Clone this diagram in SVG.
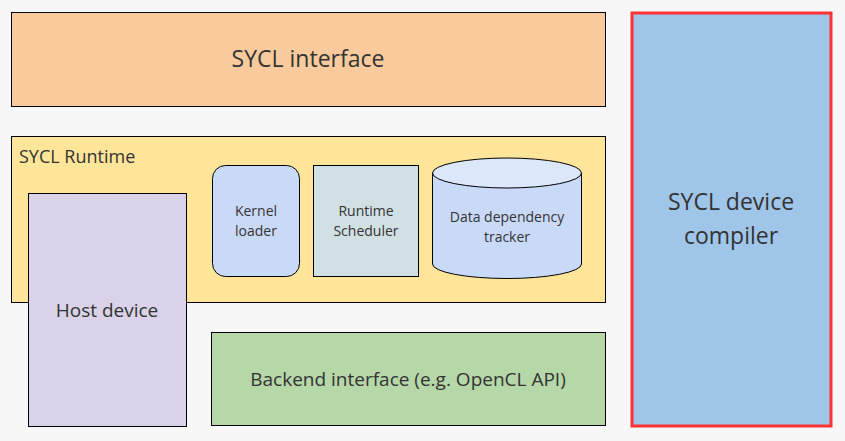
<svg xmlns="http://www.w3.org/2000/svg" width="845" height="441" viewBox="0 0 845 441">
  <style>
    .box { stroke: #000; stroke-width: 1; }
    .lbl { font-family: "Open Sans", "Noto Sans", sans-serif; fill: #333; text-anchor: middle; }
    .big { font-size: 23px; }
    .mid { font-size: 19px; }
    .sm { font-size: 14px; }
  </style>
  <rect width="845" height="441" fill="#f7f7f7"/>

  <g id="sycl-interface">
    <rect class="box" x="11.5" y="12.5" width="594" height="94" fill="#f9cb9c"/>
    <text class="lbl big" x="308" y="67">SYCL interface</text>
  </g>

  <g id="sycl-runtime">
    <rect class="box" x="11.5" y="136.5" width="594" height="166" fill="#ffe599"/>
    <text class="lbl" x="19" y="163" font-size="18" style="text-anchor:start">SYCL Runtime</text>
  </g>

  <g id="host-device">
    <rect class="box" x="28.5" y="193.5" width="158" height="233" fill="#d9d2e9"/>
    <text class="lbl mid" x="107" y="317">Host device</text>
  </g>

  <g id="kernel-loader">
    <rect class="box" x="212.5" y="165.5" width="87" height="111" rx="13" fill="#c9daf8"/>
    <text class="lbl sm" x="256" y="216">Kernel</text>
    <text class="lbl sm" x="256" y="236">loader</text>
  </g>

  <g id="runtime-scheduler">
    <rect class="box" x="313.5" y="165.5" width="105" height="111" fill="#d0e0e3"/>
    <text class="lbl sm" x="366" y="216">Runtime</text>
    <text class="lbl sm" x="366" y="236">Scheduler</text>
  </g>

  <g id="data-dependency-tracker">
    <path class="box" d="M432.5,173 L432.5,264 A74.5,14.5 0 0 0 581.5,264 L581.5,173" fill="#c9daf8"/>
    <ellipse class="box" cx="507" cy="173" rx="74.5" ry="15" fill="#dde7fa"/>
    <text class="lbl sm" x="507" y="222">Data dependency</text>
    <text class="lbl sm" x="507" y="242">tracker</text>
  </g>

  <g id="backend-interface">
    <rect class="box" x="211.5" y="332.5" width="394" height="93" fill="#b6d7a8"/>
    <text class="lbl mid" x="408" y="386">Backend interface (e.g. OpenCL API)</text>
  </g>

  <g id="sycl-device-compiler">
    <rect x="632" y="13" width="199" height="413" fill="#9fc5e8" stroke="#ff3333" stroke-width="3"/>
    <text class="lbl big" x="731" y="210">SYCL device</text>
    <text class="lbl big" x="731" y="244">compiler</text>
  </g>

  <g id="connectors"/>
</svg>
